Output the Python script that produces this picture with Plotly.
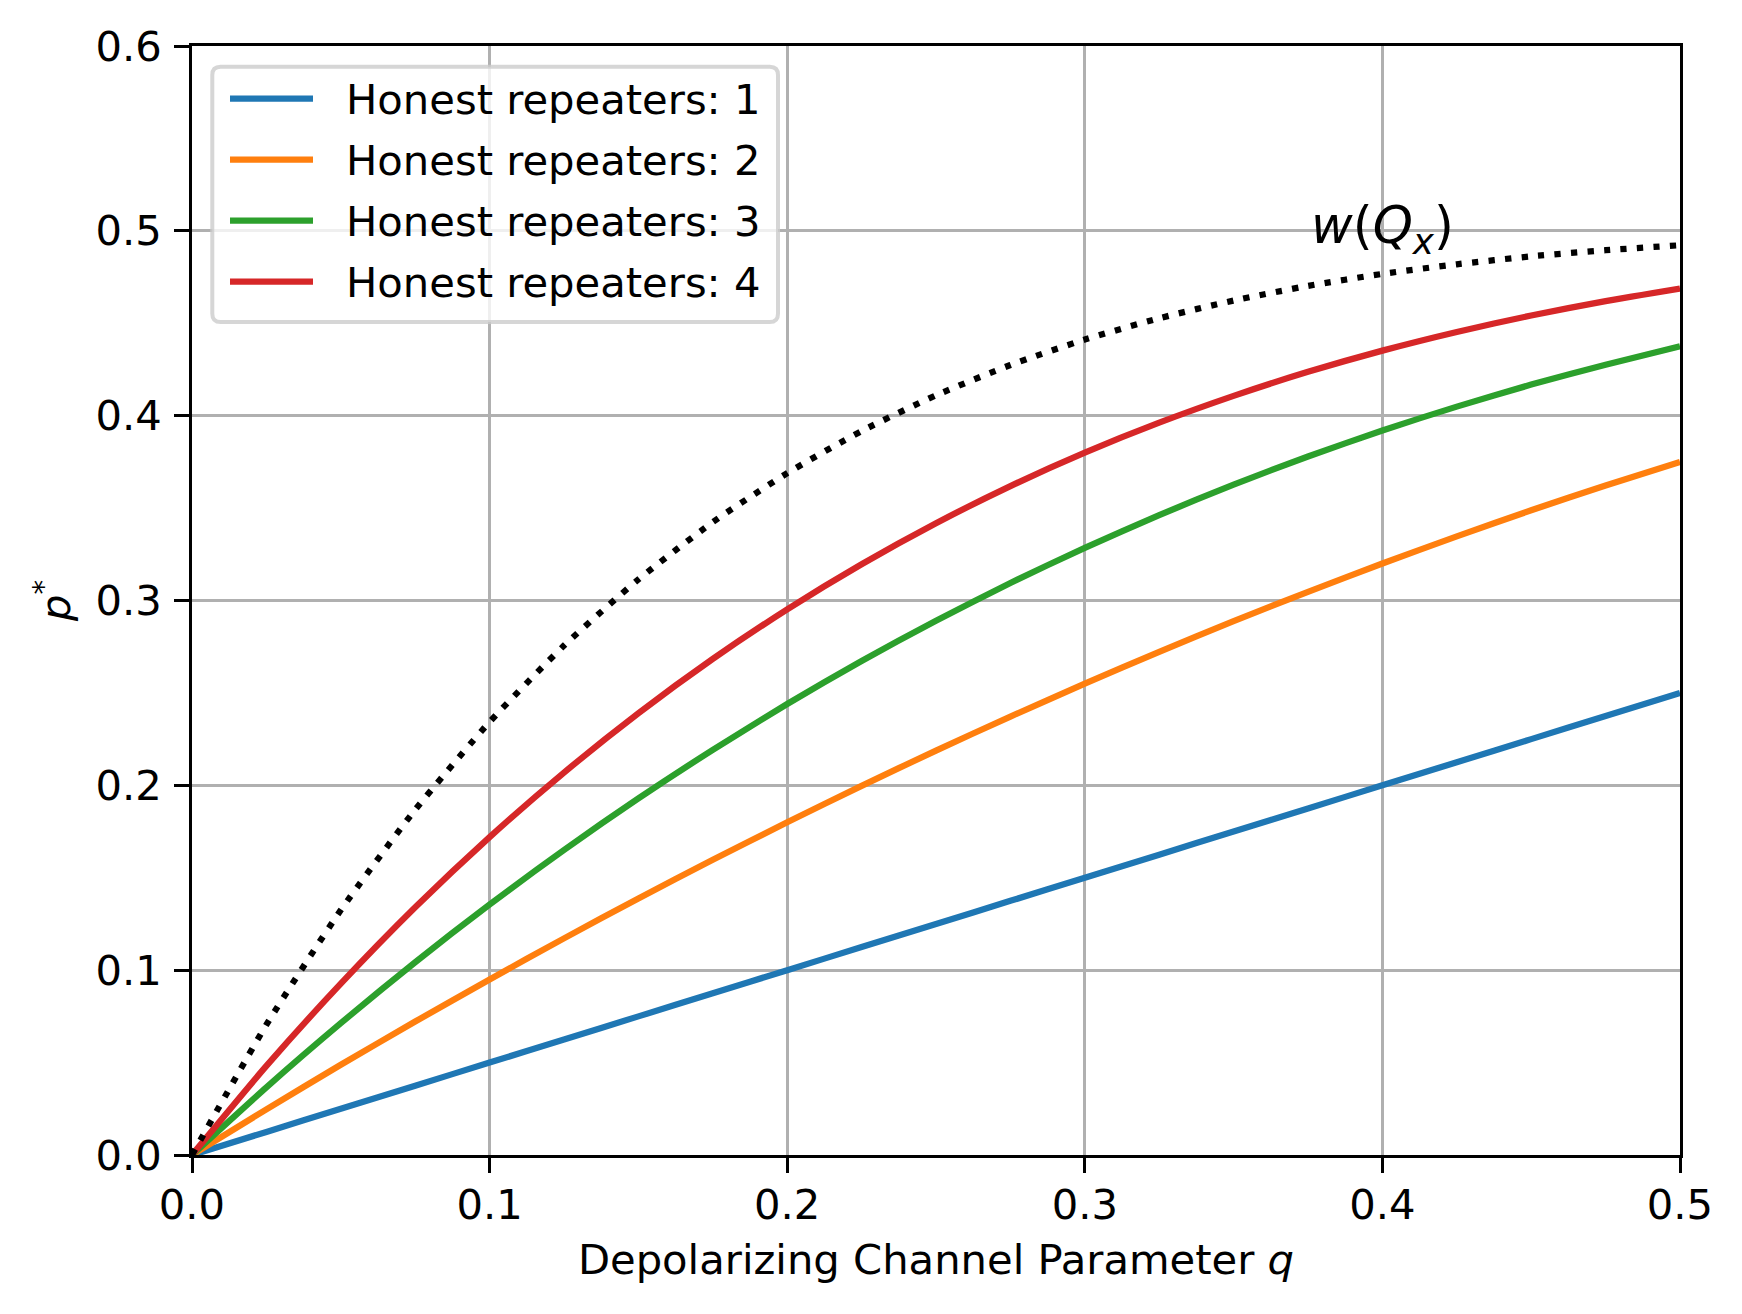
import plotly.graph_objects as go

# ---- data ----
q = [0.0, 0.025, 0.05, 0.075, 0.1, 0.125, 0.15, 0.175, 0.2, 0.225, 0.25,
     0.275, 0.3, 0.325, 0.35, 0.375, 0.4, 0.425, 0.45, 0.475, 0.5]

honest_1 = [0.0, 0.0125, 0.025, 0.0375, 0.05, 0.0625, 0.075, 0.0875, 0.1, 0.1125, 0.125,
            0.1375, 0.15, 0.1625, 0.175, 0.1875, 0.2, 0.2125, 0.225, 0.2375, 0.25]
honest_2 = [0.0, 0.0247, 0.0488, 0.0722, 0.095, 0.1172, 0.1388, 0.1597, 0.18, 0.1997, 0.2188,
            0.2372, 0.255, 0.2722, 0.2888, 0.3047, 0.32, 0.3347, 0.3488, 0.3622, 0.375]
honest_3 = [0.0, 0.0366, 0.0713, 0.1043, 0.1355, 0.165, 0.1929, 0.2192, 0.244, 0.2673, 0.2891,
            0.3095, 0.3285, 0.3462, 0.3627, 0.3779, 0.392, 0.4049, 0.4168, 0.4276, 0.4375]
honest_4 = [0.0, 0.0482, 0.0927, 0.134, 0.172, 0.2069, 0.239, 0.2684, 0.2952, 0.3196, 0.3418,
            0.3619, 0.38, 0.3962, 0.4107, 0.4237, 0.4352, 0.4453, 0.4542, 0.462, 0.4688]
w_qx = [0.0, 0.0705, 0.1325, 0.1868, 0.2343, 0.2756, 0.3114, 0.3424, 0.3689, 0.3917, 0.411,
        0.4274, 0.4412, 0.4527, 0.4623, 0.4702, 0.4767, 0.4819, 0.4862, 0.4895, 0.4922]

series_names = ["Honest repeaters: 1", "Honest repeaters: 2",
                "Honest repeaters: 3", "Honest repeaters: 4"]
series_values = [honest_1, honest_2, honest_3, honest_4]
colors = ["#1f77b4", "#ff7f0e", "#2ca02c", "#d62728"]

x_ticks = [0.0, 0.1, 0.2, 0.3, 0.4, 0.5]
y_ticks = [0.0, 0.1, 0.2, 0.3, 0.4, 0.5, 0.6]

# ---- geometry (pixels; the page body adds an 8px offset) ----
OFF = 8
W, H = 1742 - 2 * OFF, 1314 - 2 * OFF
PL, PT, PW, PH = 192, 46, 1488, 1109          # plot area in window pixels
ML, MT = PL - OFF, PT - OFF
MR = W - ML - PW
MB = H - MT - PH
FS = 41.7
LW = 6.25
FONT = "DejaVu Sans"


def px_x(p):
    return (p - PL) / PW


def px_y(p):
    return (PT + PH - p) / PH


fig = go.Figure()

for name, vals, col in zip(series_names, series_values, colors):
    fig.add_trace(go.Scatter(x=q, y=vals, mode="lines", name=name,
                             line=dict(color=col, width=LW, shape="spline", smoothing=0.6),
                             showlegend=False))

fig.add_trace(go.Scatter(x=q, y=w_qx, mode="lines", name="w(Qx)",
                         line=dict(color="black", width=LW, dash="6.25px,10.3px",
                                   shape="spline", smoothing=0.6),
                         showlegend=False))

axis_common = dict(
    showline=True, linecolor="black", linewidth=3.33, mirror=True,
    showgrid=True, gridcolor="#b0b0b0", gridwidth=3.33,
    zeroline=False,
    ticks="outside", ticklen=14.6, tickwidth=3.33, tickcolor="black",
    tickfont=dict(family=FONT, size=FS, color="black"),
    tickformat=".1f",
)

fig.update_xaxes(range=[0, 0.5], tickvals=x_ticks, ticklabelstandoff=-4,
                 title=dict(text="Depolarizing Channel Parameter <i>q</i>",
                            font=dict(family=FONT, size=FS, color="black"),
                            standoff=18),
                 **axis_common)
fig.update_yaxes(range=[0, 0.6], tickvals=y_ticks, ticklabelstandoff=4,
                 title=dict(text="<i>p</i><sup>*</sup>",
                            font=dict(family=FONT, size=FS, color="black"),
                            standoff=12),
                 **axis_common)

# ---- legend box (matplotlib style, rounded frame) ----
fx0, fx1 = px_x(212.3), px_x(778)
fy0, fy1 = px_y(322), px_y(66.8)
rx, ry = 8.3 / PW, 8.3 / PH
path = (f"M{fx0 + rx},{fy0} L{fx1 - rx},{fy0} Q{fx1},{fy0} {fx1},{fy0 + ry} "
        f"L{fx1},{fy1 - ry} Q{fx1},{fy1} {fx1 - rx},{fy1} "
        f"L{fx0 + rx},{fy1} Q{fx0},{fy1} {fx0},{fy1 - ry} "
        f"L{fx0},{fy0 + ry} Q{fx0},{fy0} {fx0 + rx},{fy0} Z")
shapes = [dict(type="path", path=path, xref="paper", yref="paper",
               fillcolor="rgba(255,255,255,0.8)",
               line=dict(color="rgba(204,204,204,0.8)", width=4), layer="above")]
annotations = []
row_y = [98.7, 159.7, 220.7, 281.7]
for name, col, ry_px in zip(series_names, colors, row_y):
    yy = px_y(ry_px)
    shapes.append(dict(type="line", xref="paper", yref="paper",
                       x0=px_x(230), x1=px_x(313), y0=yy, y1=yy,
                       line=dict(color=col, width=LW), layer="above"))
    annotations.append(dict(text=name, xref="paper", yref="paper",
                            x=px_x(344), y=px_y(ry_px + 1), xanchor="left", yanchor="middle",
                            showarrow=False,
                            font=dict(family=FONT, size=FS, color="black")))

annotations.append(dict(text="<i>w</i>(<i>Q</i><sub><i>x</i></sub>)", x=0.40, y=0.501,
                        xref="x", yref="y", xanchor="center", yanchor="middle",
                        showarrow=False,
                        font=dict(family=FONT, size=51, color="black")))

fig.update_layout(
    width=W, height=H,
    margin=dict(l=ML, r=MR, t=MT, b=MB, autoexpand=False),
    paper_bgcolor="white", plot_bgcolor="white",
    font=dict(family=FONT, size=FS, color="black"),
    shapes=shapes, annotations=annotations,
    showlegend=False,
)

fig.write_html("out.html")
